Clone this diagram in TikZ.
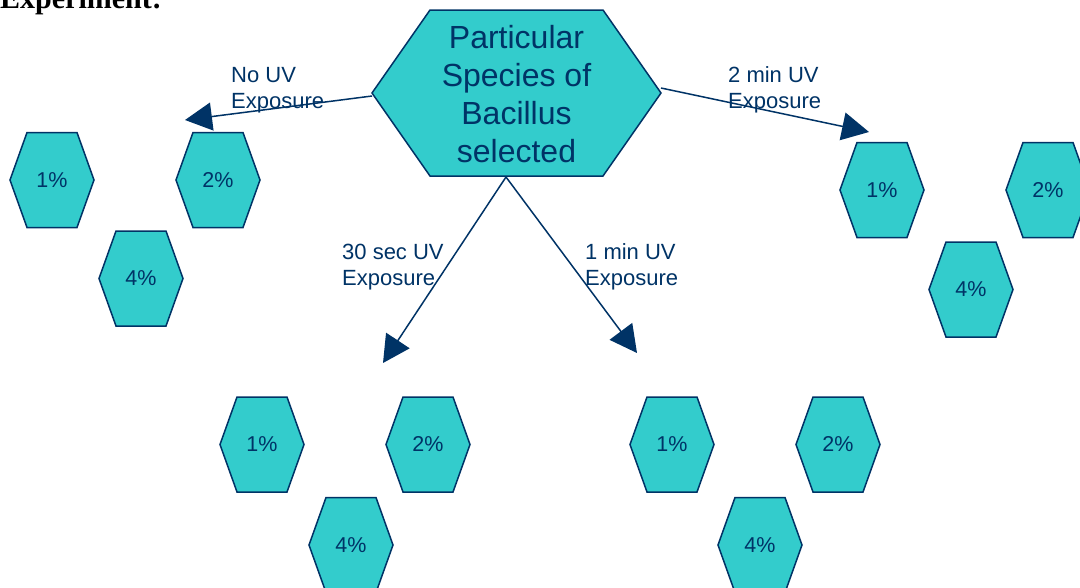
\documentclass[tikz,border=0pt]{standalone}
\usepackage{fontspec}
\setmainfont{Liberation Sans}
\newfontfamily\titlefont{Liberation Serif}
\usetikzlibrary{arrows.meta}
\definecolor{navy}{RGB}{0,51,102}
\definecolor{teal}{RGB}{51,204,204}
\tikzset{
  hexs/.style={fill=teal, draw=navy, line width=1.5pt, line join=miter},
  pct/.style={text=navy, font=\fontsize{21.5}{25}\selectfont, inner sep=0pt},
  lbl/.style={text=navy, font=\fontsize{22}{26}\selectfont, align=left, inner sep=0pt, anchor=base west},
  conn/.style={draw=navy, line width=1.5pt, -{Triangle[length=27pt,width=28pt]}},
}
\newcommand{\smallhex}[4]{%
  \filldraw[hexs] (#2-42,#3) -- (#2-25,#3-47.5) -- (#2+25,#3-47.5) -- (#2+42,#3) -- (#2+25,#3+47.5) -- (#2-25,#3+47.5) -- cycle;
  \node[pct] (#1) at (#2,#3) {#4};}
\begin{document}
\begin{tikzpicture}[x=1pt,y=-1pt]
\useasboundingbox (0,0) rectangle (1080,587);
\clip (0,0) rectangle (1080,587);
\fill[white] (0,0) rectangle (1080,587);
% title (cut off)
\node[anchor=base west, inner sep=0pt, font=\titlefont\bfseries\fontsize{30}{34}\selectfont] (title) at (0,8) {Experiment:};
% central hexagon
\filldraw[hexs] (372,93) coordinate (srcW) -- (430,10) -- (603,10) -- (661,93) coordinate (srcE) -- (603,176) -- (430,176) -- cycle;
\node[text=navy, align=center, inner sep=0pt, font=\fontsize{32}{38}\selectfont] (src) at (516.5,94) {Particular\\Species of\\Bacillus\\selected};
\coordinate (srcL) at (372,96);
\coordinate (srcR) at (661,88);
\coordinate (srcB) at (506,177);
% small hexagons
\smallhex{a1}{52}{180}{1\%}
\smallhex{a2}{218}{180}{2\%}
\smallhex{a4}{141}{278.5}{4\%}
\smallhex{b1}{882}{190}{1\%}
\smallhex{b2}{1048}{190}{2\%}
\smallhex{b4}{971}{289.5}{4\%}
\smallhex{c1}{262}{444.5}{1\%}
\smallhex{c2}{428}{444.5}{2\%}
\smallhex{c4}{351}{545}{4\%}
\smallhex{d1}{672}{444.5}{1\%}
\smallhex{d2}{838}{444.5}{2\%}
\smallhex{d4}{760}{545}{4\%}
% arrow ends
\coordinate (tNo) at (185,120);
\coordinate (tTwo) at (869,132);
\coordinate (tThirty) at (383,363);
\coordinate (tOne) at (637,353);
\draw[conn] (srcL) -- (tNo);
\draw[conn] (srcR) -- (tTwo);
\draw[conn] (srcB) -- (tThirty);
\draw[conn] (srcB) -- (tOne);
% labels (anchor at baseline of last line)
\node[lbl] (lNo) at (231,108) {No UV\\Exposure};
\node[lbl] (lTwo) at (728,108) {2 min UV\\Exposure};
\node[lbl] (lThirty) at (342,285) {30 sec UV\\Exposure};
\node[lbl] (lOne) at (585,285) {1 min UV\\Exposure};
\end{tikzpicture}
\end{document}
